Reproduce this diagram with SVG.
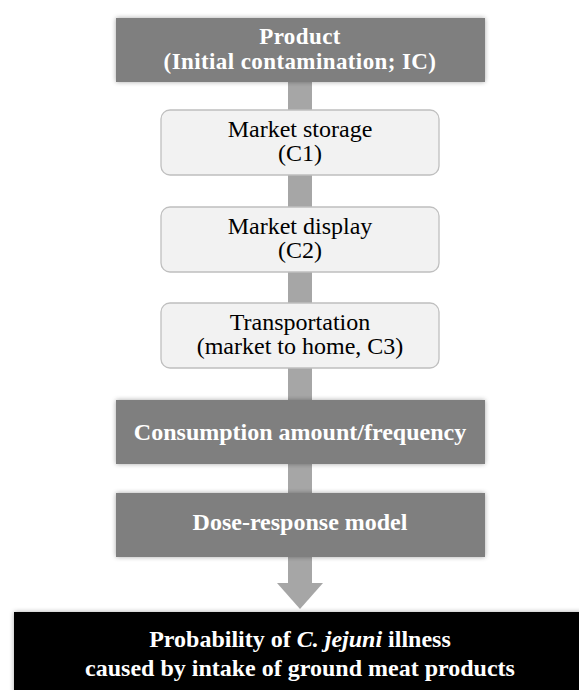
<svg xmlns="http://www.w3.org/2000/svg" width="579" height="690" viewBox="0 0 579 690">
<defs>
<filter id="sh" x="-10%" y="-20%" width="120%" height="140%">
<feGaussianBlur in="SourceAlpha" stdDeviation="2.5"/>
<feOffset dx="0" dy="0" result="b"/>
<feComponentTransfer><feFuncA type="linear" slope="0.35"/></feComponentTransfer>
<feMerge><feMergeNode/><feMergeNode in="SourceGraphic"/></feMerge>
</filter>
<style>
.dark{fill:#7f7f7f;filter:url(#sh)}
.light{fill:#f2f2f2;stroke:#bfbfbf;stroke-width:1.3}
.tb{font-family:"Liberation Serif","Times New Roman",serif;font-weight:bold;font-size:24px;fill:#ffffff;text-anchor:middle}
.tr{font-family:"Liberation Serif","Times New Roman",serif;font-size:24px;fill:#000000;text-anchor:middle}
.conn{fill:#a6a6a6}
</style>
</defs>
<rect width="579" height="690" fill="#ffffff"/>
<g id="connectors">
<rect class="conn" x="288" y="80" width="24" height="504"/>
<polygon class="conn" points="277,583 323,583 300,609"/>
</g>
<g id="product">
<rect class="dark" x="116" y="18" width="369" height="64"/>
<text class="tb" x="300" y="43.5" style="font-size:23px;letter-spacing:0.4px">Product</text>
<text class="tb" x="300" y="69" style="font-size:23px;letter-spacing:0.4px">(Initial contamination; IC)</text>
</g>
<g id="storage">
<rect class="light" x="161" y="110" width="278" height="65" rx="9"/>
<text class="tr" x="300" y="137">Market storage</text>
<text class="tr" x="300" y="161">(C1)</text>
</g>
<g id="display">
<rect class="light" x="161" y="207" width="278" height="65" rx="9"/>
<text class="tr" x="300" y="234">Market display</text>
<text class="tr" x="300" y="258">(C2)</text>
</g>
<g id="transport">
<rect class="light" x="161" y="303" width="278" height="65" rx="9"/>
<text class="tr" x="300" y="330">Transportation</text>
<text class="tr" x="300" y="354">(market to home, C3)</text>
</g>
<g id="consumption">
<rect class="dark" x="116" y="400" width="369" height="64"/>
<text class="tb" x="300" y="440">Consumption amount/frequency</text>
</g>
<g id="dose">
<rect class="dark" x="116" y="493" width="369" height="64"/>
<text class="tb" x="300" y="530">Dose-response model</text>
</g>
<g id="result">
<rect x="14" y="612" width="570" height="82" fill="#000000" filter="url(#sh)"/>
<text class="tb" x="300" y="647">Probability of <tspan font-style="italic">C. jejuni</tspan> illness</text>
<text class="tb" x="300" y="676">caused by intake of ground meat products</text>
</g>
</svg>
